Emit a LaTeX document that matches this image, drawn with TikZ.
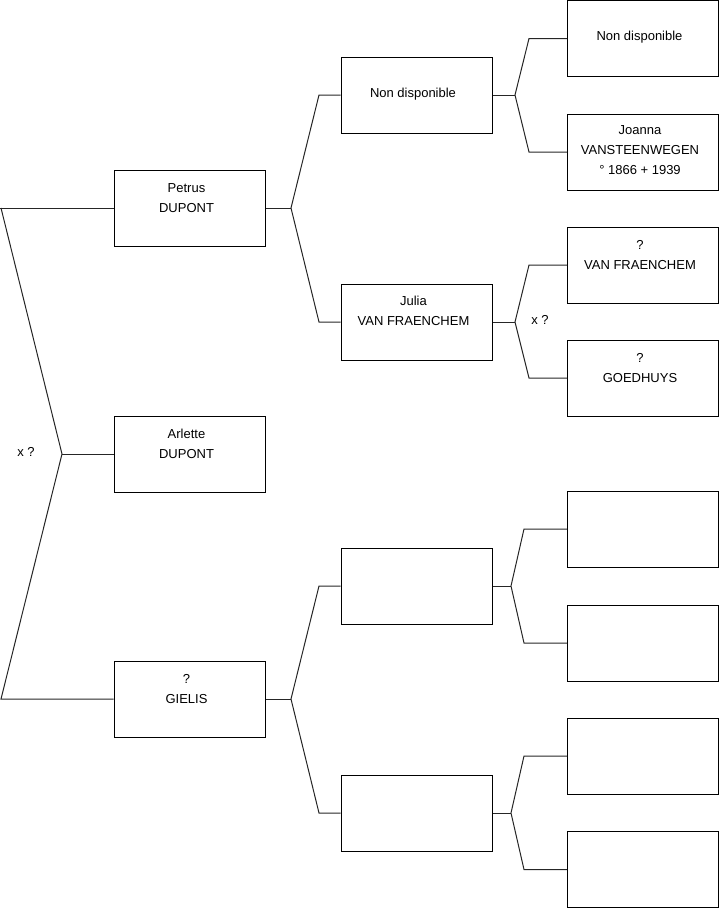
\documentclass[tikz,border=0pt]{standalone}
\usepackage{fontspec}
\setmainfont{Liberation Sans}
\begin{document}
\begin{tikzpicture}[x=1pt,y=-1pt,
  box/.style={draw=black,line width=1pt,minimum width=151pt,minimum height=76pt,inner sep=0pt},
  txt/.style={align=center,inner sep=0pt,font=\fontsize{13}{20}\selectfont},
  link/.style={draw=black!85,line width=1pt}]
\useasboundingbox (0,0) rectangle (719,908);
% level 1
\node[box] (p) at (189.5,208) {};
\node[box] (a) at (189.5,454) {};
\node[box] (g) at (189.5,699) {};
% level 2
\node[box] (pf) at (416.5,95) {};
\node[box] (pm) at (416.5,322) {};
\node[box] (gf) at (416.5,586) {};
\node[box] (gm) at (416.5,813) {};
% level 3
\node[box] (pff) at (643,38.5) {};
\node[box] (pfm) at (643,152) {};
\node[box] (pmf) at (643,265) {};
\node[box] (pmm) at (643,378) {};
\node[box] (gff) at (643,529) {};
\node[box] (gfm) at (643,643) {};
\node[box] (gmf) at (643,756) {};
\node[box] (gmm) at (643,869.5) {};
% texts
\node[txt] (tp) at ([xshift=-3pt,yshift=10pt]p.center) {Petrus\\DUPONT};
\node[txt] (ta) at ([xshift=-3pt,yshift=10pt]a.center) {Arlette\\DUPONT};
\node[txt] (tg) at ([xshift=-3pt,yshift=10pt]g.center) {?\\GIELIS};
\node[txt] (tpf) at ([xshift=-3.5pt,yshift=0.5pt]pf.center) {Non disponible};
\node[txt] (tpm) at ([xshift=-3pt,yshift=11pt]pm.center) {Julia\\VAN FRAENCHEM};
\node[txt] (tpff) at ([xshift=-3.5pt,yshift=1pt]pff.center) {Non disponible};
\node[txt] (tpfm) at ([xshift=-3pt,yshift=1.5pt]pfm.center) {Joanna\\VANSTEENWEGEN\\° 1866 + 1939};
\node[txt] (tpmf) at ([xshift=-3pt,yshift=10pt]pmf.center) {?\\VAN FRAENCHEM};
\node[txt] (tpmm) at ([xshift=-3pt,yshift=10pt]pmm.center) {?\\GOEDHUYS};
% fork coordinates
\coordinate (f0) at (62,454);
\coordinate (f0t) at (1,208);
\coordinate (f0b) at (1,699);
\coordinate (f1) at (291,208);
\coordinate (f2) at (291,699);
\coordinate (f3) at (515,95);
\coordinate (f4) at (515,322);
\coordinate (f5) at (511,586);
\coordinate (f6) at (511,813);
% left fork
\draw[link] (p.west) -- (0,208);
\draw[link] (f0t) -- (f0) -- (f0b) -- (g.west);
\draw[link] (f0) -- (a.west);
\node[txt] (x1) at (26,452) {x ?};
% petrus fork
\draw[link] (p.east) -- (f1);
\draw[link] (pf.west) -- (319,95) -- (f1) -- (319,322) -- (pm.west);
% gielis fork
\draw[link] (g.east) -- (f2);
\draw[link] (gf.west) -- (319,586) -- (f2) -- (319,813) -- (gm.west);
% level 2 forks
\draw[link] (pf.east) -- (f3);
\draw[link] (pff.west) -- (529,38.5) -- (f3) -- (529,152) -- (pfm.west);
\draw[link] (pm.east) -- (f4);
\draw[link] (pmf.west) -- (529,265) -- (f4) -- (529,378) -- (pmm.west);
\node[txt] (x2) at (540,320) {x ?};
\draw[link] (gf.east) -- (f5);
\draw[link] (gff.west) -- (524,529) -- (f5) -- (524,643) -- (gfm.west);
\draw[link] (gm.east) -- (f6);
\draw[link] (gmf.west) -- (524,756) -- (f6) -- (524,869.5) -- (gmm.west);
\end{tikzpicture}
\end{document}
